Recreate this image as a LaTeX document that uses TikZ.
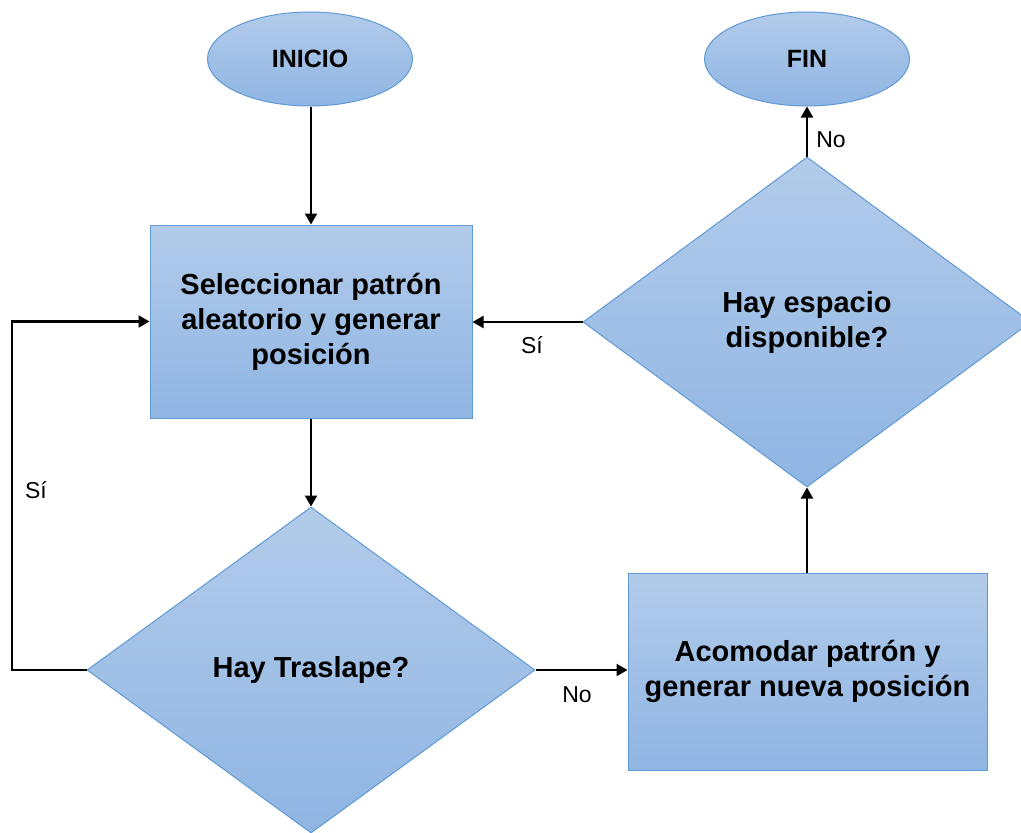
\documentclass[tikz,border=0pt]{standalone}
\usepackage{fontspec}
\setmainfont{Liberation Sans}
\usetikzlibrary{shapes.geometric,arrows.meta}
\definecolor{boxtop}{RGB}{178,203,234}
\definecolor{boxbot}{RGB}{143,181,227}
\definecolor{boxline}{RGB}{96,154,212}
\tikzset{
  fc/.style={draw=boxline, line width=1pt, top color=boxtop, bottom color=boxbot,
             inner sep=0pt, align=center, font=\bfseries\fontsize{29}{35}\selectfont},
  term/.style={fc, ellipse, minimum width=205pt, minimum height=94pt,
             font=\bfseries\fontsize{25}{30}\selectfont},
  procbox/.style={fc, rectangle},
  decide/.style={fc, diamond, aspect=1.37},
  conn/.style={line width=2.2pt, -{Triangle[width=12pt,length=11pt]}},
  lbl/.style={font=\fontsize{23}{27}\selectfont, inner sep=0pt}
}
\begin{document}
\begin{tikzpicture}[x=1pt,y=-1pt]
\useasboundingbox (0,0) rectangle (1021,833);
\clip (0,0) rectangle (1021,833);
\node[term] (inicio) at (310,59) {INICIO};
\node[term] (fin) at (807,59) {FIN};
\node[procbox, minimum width=322pt, minimum height=193pt] (rect1) at (311,321.5)
  {\rule{0pt}{6pt}Seleccionar patrón\\aleatorio y generar\\posición};
\node[decide, minimum width=448pt, minimum height=326pt] (d1) at (311,670) {\raisebox{-4pt}{Hay Traslape?}};
\node[procbox, minimum width=359pt, minimum height=197pt] (rect2) at (807.5,671.5)
  {Acomodar patrón y\\generar nueva posición};
\node[decide, minimum width=448pt, minimum height=330pt] (d2) at (807,322)
  {Hay espacio\\disponible?};
\coordinate (loop) at (12,670);
\draw[conn] (inicio.south -| rect1.north) -- (rect1.north);
\draw[conn] (rect1.south) -- (d1.north);
\draw[conn] (d1.east) -- (d1.east -| rect2.west);
\draw[conn] (rect2.north -| d2.south) -- (d2.south);
\draw[conn] (d2.north) -- (fin.south);
\draw[conn] (d2.west) -- (d2.west -| rect1.east);
\draw[conn] (d1.west) -- (loop) |- (rect1.west);
\node[lbl] (lno1) at (831,140) {No};
\node[lbl] (lsi1) at (532,345) {Sí};
\node[lbl] (lno2) at (577,695) {No};
\node[lbl] (lsi2) at (36,490) {Sí};
\end{tikzpicture}
\end{document}
